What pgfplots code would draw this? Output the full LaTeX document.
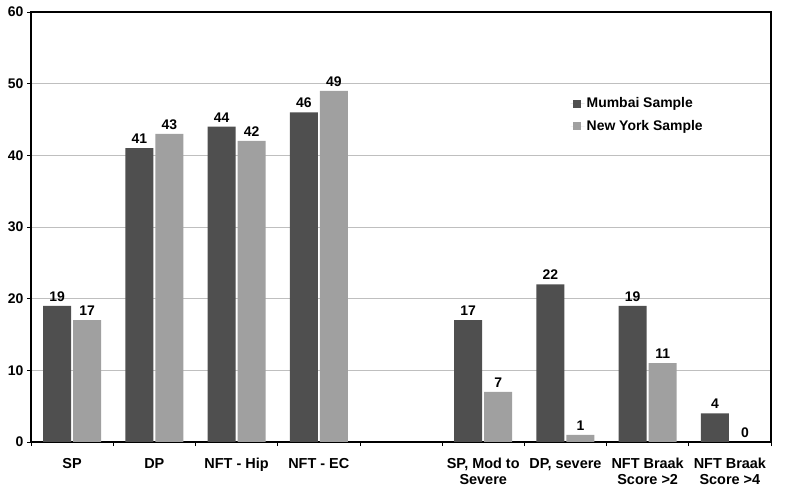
\documentclass[border=0pt]{standalone}
\usepackage{pgfplots}
\pgfplotsset{compat=1.18}
\usepackage{fontspec}
\setmainfont{Liberation Sans}
\definecolor{dark}{HTML}{4F4F4F}
\definecolor{light}{HTML}{A0A0A0}
\definecolor{grid}{HTML}{8A8A8A}
\begin{document}
\begin{tikzpicture}[x=1bp,y=1bp]
\path (0,0) rectangle (785bp,494bp);
\begin{axis}[
  at={(31bp,52bp)}, anchor=south west,
  width=740bp, height=430bp, scale only axis,
  ybar, bar width=28bp,
  xmin=-0.5, xmax=8.5, ymin=0, ymax=60,
  ytick={0,10,...,60},
  ymajorgrids, xmajorgrids=false, grid style={grid, line width=0.8pt},
  xtick={-0.5,0.5,...,8.5},
  xticklabels={},
  extra x ticks={0,1,2,3,5,6,7,8},
  extra x tick labels={SP,DP,NFT - Hip,NFT - EC,{SP, Mod to\\Severe},{DP, severe},{NFT Braak\\Score >2},{NFT Braak\\Score >4}},
  extra x tick style={grid=none, tick style={draw=none}},
  xtick pos=bottom, ytick pos=left,
  xtick align=outside, ytick align=outside,
  major tick length=4bp,
  tick style={black, line width=0.6pt},
  x tick label style={align=center, font=\fontsize{14.5}{16}\selectfont\bfseries, yshift=-9bp},
  y tick label style={font=\fontsize{14}{16}\selectfont\bfseries},
  /pgf/number format/assume math mode=true,
  axis line style={black, line width=1.2pt},
  nodes near coords,
  every node near coord/.append style={font=\fontsize{14}{16}\selectfont\bfseries, yshift=1bp},
  legend cell align=left,
  legend style={draw=none, fill=none, at={(0.725,0.81)}, anchor=north west, font=\fontsize{14}{16}\selectfont\bfseries, row sep=7bp},
  legend image code/.code={\path (0bp,0bp) -- (14bp,0bp); \fill[#1] (2bp,-4bp) rectangle (10bp,4bp);},
]
\addplot[fill=dark, draw=none, bar shift=-15bp] coordinates {(0,19) (1,41) (2,44) (3,46) (5,17) (6,22) (7,19) (8,4)};
\addplot[fill=light, draw=none, bar shift=15bp] coordinates {(0,17) (1,43) (2,42) (3,49) (5,7) (6,1) (7,11) (8,0)};
\legend{Mumbai Sample, New York Sample}
\end{axis}
\end{tikzpicture}
\end{document}
